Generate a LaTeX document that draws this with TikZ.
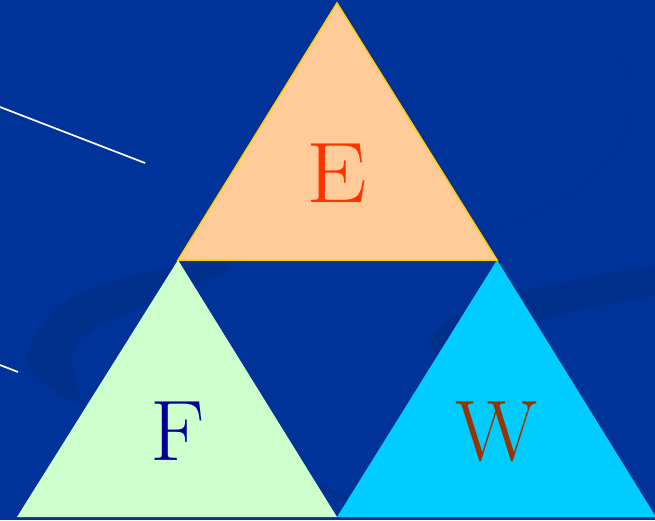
\documentclass[tikz,border=0pt]{standalone}
\usepackage{fontspec}
\definecolor{bgblue}{HTML}{003399}
\definecolor{swooshblue}{HTML}{002F8C}
\definecolor{faintblue}{HTML}{003293}
\definecolor{peach}{HTML}{FFCC99}
\definecolor{edgeyellow}{HTML}{FFCC00}
\definecolor{mint}{HTML}{CCFFCC}
\definecolor{skycyan}{HTML}{00CCFF}
\definecolor{eRed}{HTML}{FF3300}
\definecolor{fNavy}{HTML}{000099}
\definecolor{wBrown}{HTML}{993300}
\tikzset{
  swoosh/.style={fill=swooshblue, draw=none},
  whiteline/.style={draw=white, line width=1.7pt},
  letter/.style={inner sep=0pt, font=\fontsize{86}{100}\selectfont, anchor=base},
}
\begin{document}
\begin{tikzpicture}[x=1pt,y=1pt]
\useasboundingbox (0,0) rectangle (655,520);
\fill[bgblue] (0,0) rectangle (655,520);
% background swooshes
\fill[swoosh] plot[smooth, tension=0.7] coordinates {(85,112) (42,138) (26,162) (40,190) (67,220) (117,240) (167,252) (230,264)}
  -- plot[smooth, tension=0.7] coordinates {(230,250) (140,212) (92,190) (72,160) (85,112)} -- cycle;
\fill[swoosh] (655,255) .. controls (560,238) and (462,222) .. (433,186)
  .. controls (424,172) and (438,158) .. (452,166)
  .. controls (505,196) and (585,213) .. (655,224) -- cycle;
\draw[faintblue, line width=2.5pt] (618,467) .. controls (650,430) and (640,330) .. (480,287);
\draw[swooshblue, line width=4pt, line cap=round] (320,33) -- (348,20);
% white lines
\coordinate (l1a) at (0,413);
\coordinate (l1b) at (145,357);
\coordinate (l2a) at (0,155);
\coordinate (l2b) at (18,148);
\draw[whiteline] (l1a) -- (l1b);
\draw[whiteline] (l2a) -- (l2b);
% triangles
\coordinate (eTop) at (337,517);
\coordinate (eL) at (178,260);
\coordinate (eR) at (497,260);
\coordinate (fL) at (17,3);
\coordinate (mid) at (337,3);
\coordinate (wR) at (656,3);
\fill[mint] (eL) -- (fL) -- (mid) -- cycle;
\fill[skycyan] (eR) -- (mid) -- (wR) -- cycle;
\filldraw[fill=peach, draw=edgeyellow, line width=1.5pt, line join=miter] (eTop) -- (eL) -- (eR) -- cycle;
% letters
\node[letter, text=eRed, xscale=1.12, transform shape] (E) at (337,317) {E};
\node[letter, text=fNavy, xscale=1.05, transform shape] (F) at (178,60) {F};
\node[letter, text=wBrown] (W) at (497,60) {W};
\end{tikzpicture}
\end{document}
